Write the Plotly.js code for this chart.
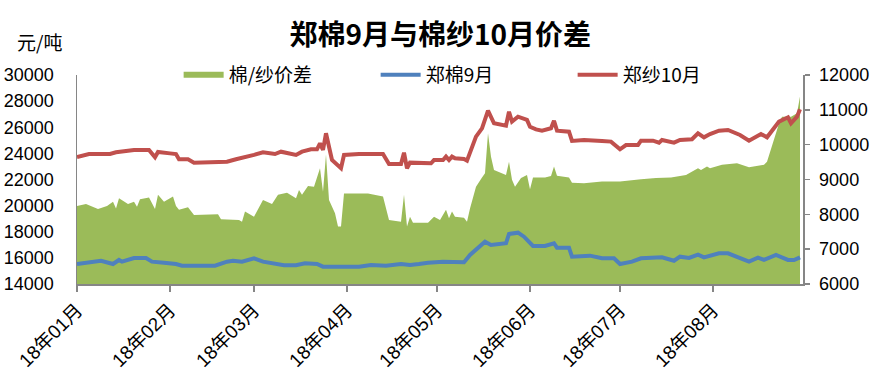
<!DOCTYPE html>
<html>
<head>
<meta charset="utf-8">
<script src="https://cdn.plot.ly/plotly-3.0.1.min.js"></script>
<style>html,body{margin:0;padding:0;background:#fff;}#chart{width:877px;height:392px;}</style>
</head>
<body>
<div id="chart"></div>
<script>
// 棉/纱价差 (right axis)
const spreadDates = ['2018-01-01','2018-01-04','2018-01-08','2018-01-11','2018-01-13','2018-01-14','2018-01-15','2018-01-18','2018-01-20','2018-01-21','2018-01-22','2018-01-25','2018-01-27','2018-01-28','2018-01-30','2018-02-02','2018-02-03','2018-02-04','2018-02-07','2018-02-09','2018-02-17','2018-02-18','2018-02-24','2018-02-25','2018-02-26','2018-03-01','2018-03-04','2018-03-07','2018-03-09','2018-03-12','2018-03-15','2018-03-16','2018-03-17','2018-03-19','2018-03-21','2018-03-23','2018-03-24','2018-03-25','2018-03-26','2018-03-28','2018-03-29','2018-03-30','2018-03-31','2018-04-08','2018-04-13','2018-04-15','2018-04-19','2018-04-20','2018-04-21','2018-04-22','2018-04-23','2018-04-28','2018-04-30','2018-05-02','2018-05-04','2018-05-05','2018-05-06','2018-05-07','2018-05-10','2018-05-11','2018-05-12','2018-05-14','2018-05-16','2018-05-17','2018-05-18','2018-05-19','2018-05-20','2018-05-24','2018-05-25','2018-05-26','2018-05-27','2018-05-29','2018-05-31','2018-06-01','2018-06-02','2018-06-06','2018-06-08','2018-06-09','2018-06-10','2018-06-14','2018-06-15','2018-06-19','2018-06-25','2018-07-01','2018-07-08','2018-07-13','2018-07-18','2018-07-23','2018-07-27','2018-07-28','2018-07-30','2018-07-31','2018-08-04','2018-08-09','2018-08-13','2018-08-18','2018-08-19','2018-08-23','2018-08-24','2018-08-27','2018-08-29','2018-08-30'];
const spreadValues = [8240,8300,8150,8240,8360,8170,8460,8300,8360,8220,8430,8480,8150,8560,8360,8510,8240,8130,8200,7980,8000,7860,7840,7790,8080,7930,8410,8300,8560,8620,8460,8700,8560,8810,8790,9320,8650,9720,8410,8030,7650,7650,8600,8600,8510,7840,7790,8560,7650,7930,7760,7760,7930,7840,8130,7890,8080,7930,7900,7790,8170,8790,9060,9180,10330,9650,9270,9130,9510,8990,8790,9040,9130,8720,9060,9060,9100,9370,9110,9060,8910,8890,8940,8940,9010,9040,9060,9130,9320,9270,9370,9320,9420,9470,9350,9420,9510,10610,10800,10800,10900,11380];

// 郑棉9月 (left axis)
const cottonDates = ['2018-01-01','2018-01-05','2018-01-09','2018-01-13','2018-01-15','2018-01-16','2018-01-20','2018-01-24','2018-01-26','2018-01-30','2018-02-03','2018-02-05','2018-02-16','2018-02-20','2018-02-22','2018-02-25','2018-03-01','2018-03-04','2018-03-08','2018-03-11','2018-03-15','2018-03-18','2018-03-22','2018-03-24','2018-03-27','2018-04-05','2018-04-09','2018-04-14','2018-04-19','2018-04-22','2018-04-25','2018-04-28','2018-05-03','2018-05-07','2018-05-10','2018-05-12','2018-05-15','2018-05-17','2018-05-19','2018-05-24','2018-05-25','2018-05-28','2018-05-30','2018-06-02','2018-06-06','2018-06-09','2018-06-10','2018-06-14','2018-06-15','2018-06-21','2018-06-25','2018-06-29','2018-07-01','2018-07-05','2018-07-08','2018-07-11','2018-07-15','2018-07-19','2018-07-21','2018-07-24','2018-07-27','2018-07-29','2018-08-03','2018-08-06','2018-08-10','2018-08-13','2018-08-16','2018-08-18','2018-08-22','2018-08-26','2018-08-28','2018-08-30'];
const cottonValues = [15530,15630,15780,15530,15840,15710,15990,15990,15710,15630,15530,15400,15400,15710,15780,15710,15970,15710,15530,15430,15430,15585,15530,15325,15325,15325,15455,15400,15530,15455,15530,15630,15710,15660,15660,16220,16860,17240,16990,17120,17830,17930,17620,16910,16910,17120,16780,16780,16090,16170,15970,15970,15530,15710,15970,15970,16040,15780,16090,16000,16250,16040,16350,16350,15970,15710,16010,15840,16220,15840,15840,16040];

// 郑纱10月 (left axis)
const yarnDates = ['2018-01-01','2018-01-05','2018-01-12','2018-01-14','2018-01-20','2018-01-22','2018-01-24','2018-01-25','2018-01-27','2018-01-28','2018-02-01','2018-02-03','2018-02-04','2018-02-07','2018-02-09','2018-02-20','2018-02-23','2018-02-26','2018-03-01','2018-03-04','2018-03-08','2018-03-10','2018-03-15','2018-03-17','2018-03-20','2018-03-22','2018-03-23','2018-03-24','2018-03-25','2018-03-26','2018-03-27','2018-03-30','2018-03-31','2018-04-05','2018-04-13','2018-04-15','2018-04-19','2018-04-20','2018-04-21','2018-04-22','2018-04-29','2018-04-30','2018-05-03','2018-05-04','2018-05-05','2018-05-06','2018-05-07','2018-05-10','2018-05-11','2018-05-14','2018-05-16','2018-05-18','2018-05-20','2018-05-24','2018-05-25','2018-05-26','2018-05-28','2018-05-31','2018-06-01','2018-06-03','2018-06-05','2018-06-08','2018-06-09','2018-06-10','2018-06-14','2018-06-15','2018-06-19','2018-06-25','2018-06-28','2018-07-01','2018-07-03','2018-07-07','2018-07-08','2018-07-12','2018-07-14','2018-07-15','2018-07-19','2018-07-21','2018-07-25','2018-07-27','2018-07-29','2018-07-31','2018-08-03','2018-08-06','2018-08-10','2018-08-13','2018-08-17','2018-08-19','2018-08-21','2018-08-23','2018-08-26','2018-08-27','2018-08-29','2018-08-30'];
const yarnValues = [23720,23950,23950,24080,24260,24260,24330,24260,23700,24110,24000,23950,23550,23550,23290,23360,23550,23700,23880,24080,23950,24130,23880,24130,24310,24310,24770,24260,25540,24510,23490,22860,23880,23950,23950,23190,23190,24050,22860,23290,23240,23490,23490,23750,23490,23750,23620,23570,23440,25280,25920,27270,26300,26120,27190,26430,26810,26560,26040,25840,25740,25920,26500,25740,25660,24950,25025,24950,24900,24310,24640,24640,24970,24970,24820,25025,24820,25025,25080,25540,25230,25480,25740,25790,25410,24970,25480,25230,25790,26430,26760,26300,26810,27380];

const tickDates = ['2018-01-01','2018-02-01','2018-03-01','2018-04-01','2018-05-01','2018-06-01','2018-07-01','2018-08-01'];
const tickLabels = ['18年01月','18年02月','18年03月','18年04月','18年05月','18年06月','18年07月','18年08月'];

const FONT = 'Liberation Sans, "Noto Sans CJK SC", sans-serif';
const AX = '#868686';

const traces = [
  {x: spreadDates, y: spreadValues, name: '棉/纱价差', type: 'scatter', mode: 'none',
   fill: 'tozeroy', fillcolor: '#9BBB59', yaxis: 'y', hoverinfo: 'x+y'},
  {x: cottonDates, y: cottonValues, name: '郑棉9月', type: 'scatter', mode: 'lines',
   line: {color: '#4F81BD', width: 4}, yaxis: 'y2'},
  {x: yarnDates, y: yarnValues, name: '郑纱10月', type: 'scatter', mode: 'lines',
   line: {color: '#C0504D', width: 4}, yaxis: 'y2'}
];

const layout = {
  width: 877, height: 392,
  margin: {l: 77, r: 74, t: 75, b: 108},
  paper_bgcolor: '#fff', plot_bgcolor: '#fff',
  font: {family: FONT, size: 17, color: '#000'},
  title: {text: '<b>郑棉9月与棉纱10月价差</b>', x: 0.502, xanchor: 'center',
          y: 0.91, yanchor: 'middle', yref: 'container',
          font: {family: '"Noto Sans CJK SC", sans-serif', size: 28, color: '#000'}},
  showlegend: true,
  legend: {orientation: 'h', x: 0.14, xanchor: 'left', y: 1.0, yanchor: 'middle',
           font: {family: '"Noto Sans CJK SC", sans-serif', size: 19, color: '#000'},
           bgcolor: 'rgba(0,0,0,0)', entrywidth: 142, itemwidth: 40, traceorder: 'normal'},
  xaxis: {type: 'date', range: ['2018-01-01', '2018-08-31'],
          tickmode: 'array', tickvals: tickDates, ticktext: tickLabels, tickangle: -45,
          ticks: 'outside', ticklen: 6, tickcolor: AX, tickwidth: 1.5,
          showline: true, linecolor: AX, linewidth: 1.5, showgrid: false, zeroline: false,
          tickfont: {family: FONT, size: 19, color: '#000'}},
  yaxis: {range: [6000, 12000], dtick: 1000, side: 'right', tickformat: 'd',
          ticks: 'outside', ticklen: 5, tickcolor: AX, tickwidth: 1.5,
          showline: true, linecolor: AX, linewidth: 1.5, showgrid: false, zeroline: false,
          tickfont: {family: FONT, size: 18, color: '#000'}, ticklabelstandoff: 6},
  yaxis2: {range: [14000, 30000], dtick: 2000, side: 'left', overlaying: 'y', tickformat: 'd',
           ticks: '', showline: true, linecolor: AX, linewidth: 1.5,
           showgrid: false, zeroline: false,
           tickfont: {family: FONT, size: 18, color: '#000'}, ticklabelstandoff: 18},
  annotations: [
    {text: '元/吨', xref: 'paper', yref: 'paper', x: -0.051, y: 1.158,
     xanchor: 'center', yanchor: 'middle', showarrow: false,
     font: {family: '"Noto Sans CJK SC", sans-serif', size: 19, color: '#000'}}
  ]
};

Plotly.newPlot('chart', traces, layout, {displayModeBar: false, staticPlot: true});
</script>
</body>
</html>
